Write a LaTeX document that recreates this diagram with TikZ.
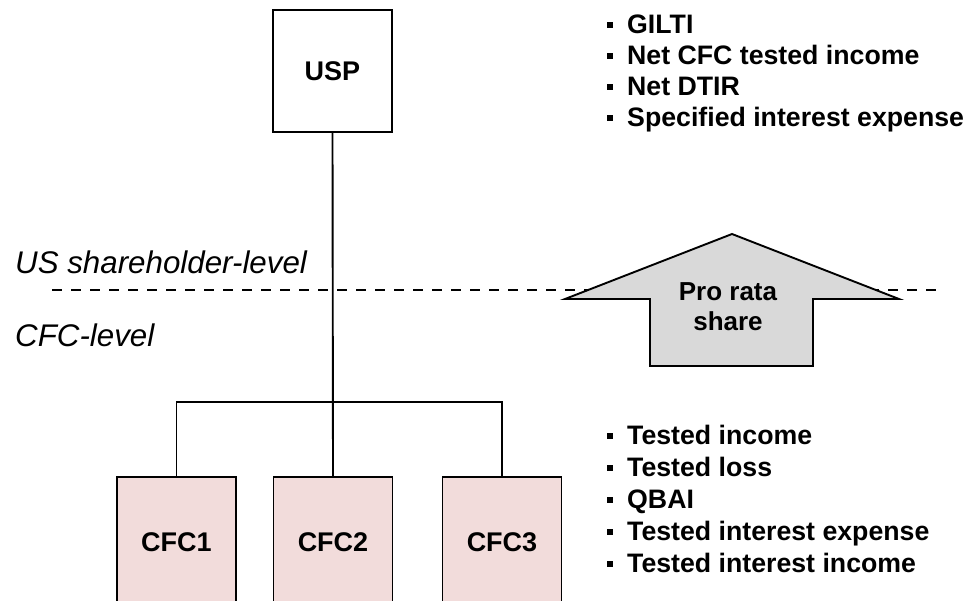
\documentclass[tikz,border=0pt]{standalone}
\usepackage{fontspec}
\setmainfont{Liberation Sans}
\definecolor{cfcfill}{HTML}{F2DCDB}
\definecolor{arrowfill}{HTML}{D9D9D9}
\newcommand{\bul}{\rule[5pt]{6pt}{6pt}\hspace{14pt}}
\begin{document}
\begin{tikzpicture}[x=1pt,y=-1pt,
  entity/.style={draw, line width=1.9pt, minimum width=119pt, inner sep=0pt,
    font=\fontsize{27}{32}\bfseries\selectfont},
  cfcbox/.style={entity, fill=cfcfill, minimum height=130pt},
  listline/.style={anchor=base west, inner sep=0pt, font=\fontsize{26.7}{31}\bfseries\selectfont},
  levellabel/.style={anchor=base west, inner sep=0pt, font=\fontsize{31.3}{36}\itshape\selectfont},
  conn/.style={line width=1.9pt}
]
\useasboundingbox (0,0) rectangle (964,600);
\fill[white] (0,0) rectangle (964,600);

% dashed level line
\coordinate (dl) at (52,290);
\coordinate (dr) at (943,290);
\draw[line width=1.8pt, dash pattern=on 10pt off 9pt] (dl) -- (dr);

% level labels
\node[levellabel] (ush) at (15,273) {US shareholder-level};
\node[levellabel] (cfcl) at (15,346) {CFC-level};

% boxes
\node[entity, minimum height=122pt] (usp) at (332.5,71) {USP};
\node[cfcbox] (cfc1) at (176.5,542) {CFC1};
\node[cfcbox] (cfc2) at (333,542) {CFC2};
\node[cfcbox] (cfc3) at (502,542) {CFC3};

% connectors
\draw[conn] (usp.south) -- (cfc2.north);
\draw[conn] (cfc1.north) -- ++(0,-74) -| (cfc3.north);

% pro rata arrow
\draw[line width=1.9pt, fill=arrowfill, line join=miter]
  (565,299) -- (732,234) -- (899,299) -- (813,299) -- (813,366) -- (650,366) -- (650,299) -- cycle;
\node[align=center, inner sep=0pt, font=\fontsize{26}{30}\bfseries\selectfont] (prs) at (728,307) {Pro rata\\share};

% top list
\node[listline] (t1) at (607,33) {\bul GILTI};
\node[listline] (t2) at (607,64) {\bul Net CFC tested income};
\node[listline] (t3) at (607,95) {\bul Net DTIR};
\node[listline] (t4) at (607,126) {\bul Specified interest expense};

% bottom list
\node[listline] (b1) at (607,444) {\bul Tested income};
\node[listline] (b2) at (607,476) {\bul Tested loss};
\node[listline] (b3) at (607,508) {\bul QBAI};
\node[listline] (b4) at (607,540) {\bul Tested interest expense};
\node[listline] (b5) at (607,572) {\bul Tested interest income};
\end{tikzpicture}
\end{document}
